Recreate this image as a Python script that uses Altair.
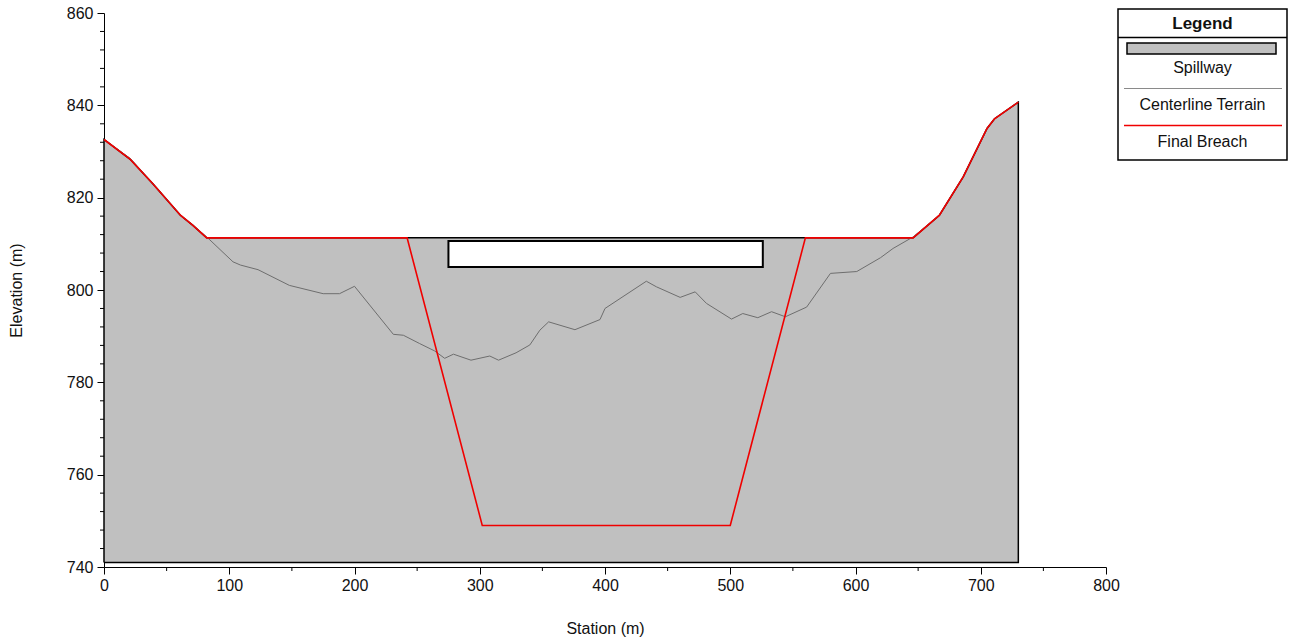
import altair as alt
import pandas as pd

# ---- data ----
terrain_station = [0, 21, 39, 61, 71, 82, 103, 109, 123, 148, 175, 188, 200, 231, 239, 252, 264,
                   272, 279, 293, 308, 315, 329, 340, 348, 355, 376, 396, 400, 433, 441, 460, 472,
                   481, 501, 510, 522, 533, 544, 561, 580, 601, 620, 630, 646, 667, 686, 705, 711, 730]
terrain_elev = [832.6, 828.5, 823.0, 816.2, 814.0, 811.5, 806.1, 805.4, 804.4, 801.0, 799.2, 799.2,
                800.8, 790.4, 790.2, 788.4, 786.8, 785.2, 786.1, 784.8, 785.7, 784.8, 786.4, 788.1,
                791.3, 793.1, 791.4, 793.6, 796.0, 801.9, 800.7, 798.4, 799.6, 797.1, 793.7, 794.9,
                794.0, 795.3, 794.2, 796.3, 803.6, 804.0, 807.0, 809.0, 811.5, 816.2, 824.5, 835.0,
                837.1, 840.7]

crest_elev = 811.3
base_elev = 741.0

# spillway (embankment) outline
spill_station = [0, 21, 39, 61, 71, 82, 646, 667, 686, 705, 711, 730]
spill_top = [832.6, 828.3, 823.0, 816.2, 814.0, crest_elev, crest_elev, 816.2, 824.5, 835.0, 837.1, 840.7]

# final breach profile
breach_station = [0, 21, 39, 61, 71, 82, 242, 302, 500, 560, 646, 667, 686, 705, 711, 730]
breach_elev = [832.6, 828.3, 823.0, 816.2, 814.0, crest_elev, crest_elev, 749.0, 749.0, crest_elev,
               crest_elev, 816.2, 824.5, 835.0, 837.1, 840.7]

# white box
box_x = [275]
box_x2 = [526]
box_y = [805.0]
box_y2 = [810.6]

y_major = [740, 760, 780, 800, 820, 840, 860]
y_minor = [v for v in range(744, 860, 4) if v % 20 != 0]
x_major = [0, 100, 200, 300, 400, 500, 600, 700, 800]
x_minor = [50, 150, 250, 350, 450, 550, 650, 750]

FONT = "Liberation Sans"
FS = 16
W, H = 1002, 554

xs = alt.Scale(domain=[0, 800], nice=False, zero=False)
ys = alt.Scale(domain=[740, 860], nice=False, zero=False)

spill_df = pd.DataFrame({"station": spill_station, "top": spill_top, "base": base_elev})
outline_df = pd.DataFrame({
    "station": [0] + spill_station + [730, 0],
    "elev": [base_elev] + spill_top + [base_elev, base_elev],
})
outline_df["order"] = range(len(outline_df))
terrain_df = pd.DataFrame({"station": terrain_station, "elev": terrain_elev})
breach_df = pd.DataFrame({"station": breach_station, "elev": breach_elev})
box_df = pd.DataFrame({"x": box_x, "x2": box_x2, "y": box_y, "y2": box_y2})

x_axis = alt.Axis(values=x_major, title="Station (m)", grid=False, tickSize=7, tickColor="black",
                  domainColor="black", labelFont=FONT, labelFontSize=FS, labelColor="#111111",
                  titleFont=FONT, titleFontSize=FS, titleFontWeight="normal", titleColor="#111111",
                  titlePadding=27, labelPadding=3, labelFlush=False, labelOverlap=False)
y_axis = alt.Axis(values=y_major, title="Elevation (m)", grid=False, tickSize=7, tickColor="black",
                  domainColor="black", labelFont=FONT, labelFontSize=FS, labelColor="#111111",
                  titleFont=FONT, titleFontSize=FS, titleFontWeight="normal", titleColor="#111111",
                  titlePadding=42, labelPadding=4, labelFlush=False, labelOverlap=False)

area = alt.Chart(spill_df).mark_area(color="#c0c0c0", opacity=1).encode(
    x=alt.X("station:Q", scale=xs, axis=x_axis),
    y=alt.Y("top:Q", scale=ys, axis=y_axis),
    y2="base:Q",
)
outline = alt.Chart(outline_df).mark_line(color="black", strokeWidth=1.5).encode(
    x=alt.X("station:Q", scale=xs), y=alt.Y("elev:Q", scale=ys), order="order:Q")
terrain = alt.Chart(terrain_df).mark_line(color="#6e6e6e", strokeWidth=1).encode(
    x=alt.X("station:Q", scale=xs), y=alt.Y("elev:Q", scale=ys))
breach = alt.Chart(breach_df).mark_line(color="#f00000", strokeWidth=1.6).encode(
    x=alt.X("station:Q", scale=xs), y=alt.Y("elev:Q", scale=ys))
box = alt.Chart(box_df).mark_rect(fill="white", stroke="black", strokeWidth=2).encode(
    x=alt.X("x:Q", scale=xs), x2="x2:Q", y=alt.Y("y:Q", scale=ys), y2="y2:Q")

ymin_df = pd.DataFrame({"v": y_minor})
xmin_df = pd.DataFrame({"v": x_minor})
ymin = alt.Chart(ymin_df).mark_rule(color="black", strokeWidth=1).encode(
    y=alt.Y("v:Q", scale=ys), x=alt.value(0), x2=alt.value(-4))
xmin = alt.Chart(xmin_df).mark_rule(color="black", strokeWidth=1).encode(
    x=alt.X("v:Q", scale=xs), y=alt.value(H), y2=alt.value(H + 4))

# ---- legend box (decoration drawn outside the plot area) ----
one = pd.DataFrame({"a": [0]})
LX0, LX1 = 1014, 1183
LCX = (LX0 + LX1) / 2
leg_box = alt.Chart(one).mark_rect(fill="white", stroke="black", strokeWidth=1.5).encode(
    x=alt.value(LX0), x2=alt.value(LX1), y=alt.value(-4), y2=alt.value(147))
leg_sep = alt.Chart(one).mark_rule(color="black", strokeWidth=1.5).encode(
    x=alt.value(LX0), x2=alt.value(LX1), y=alt.value(24.5))
leg_sw = alt.Chart(one).mark_rect(fill="#c0c0c0", stroke="black", strokeWidth=1.5).encode(
    x=alt.value(1023), x2=alt.value(1172), y=alt.value(30), y2=alt.value(41))
leg_gray = alt.Chart(one).mark_rule(color="#8a8a8a", strokeWidth=1).encode(
    x=alt.value(1020), x2=alt.value(1178), y=alt.value(75.5))
leg_red = alt.Chart(one).mark_rule(color="#f00000", strokeWidth=1.5).encode(
    x=alt.value(1020), x2=alt.value(1178), y=alt.value(112.5))

def leg_text(txt, y, bold=False, size=FS):
    return alt.Chart(one).mark_text(font=FONT, fontSize=size, color="#111111", align="center",
                                    baseline="middle", fontWeight="bold" if bold else "normal").encode(
        x=alt.value(LCX), y=alt.value(y), text=alt.value(txt))

legend = [leg_box, leg_sep, leg_sw, leg_gray, leg_red,
          leg_text("Legend", 10.5, True, 17), leg_text("Spillway", 55), leg_text("Centerline Terrain", 92),
          leg_text("Final Breach", 129)]

chart = alt.layer(area, outline, terrain, breach, box, ymin, xmin, *legend).properties(
    width=W, height=H,
    autosize=alt.AutoSizeParams(type="none"),
    padding={"left": 104, "top": 13, "right": 189, "bottom": 73},
    background="white",
).configure_view(stroke=None)

chart.save("out.html", embed_options={"renderer": "svg", "actions": False})
